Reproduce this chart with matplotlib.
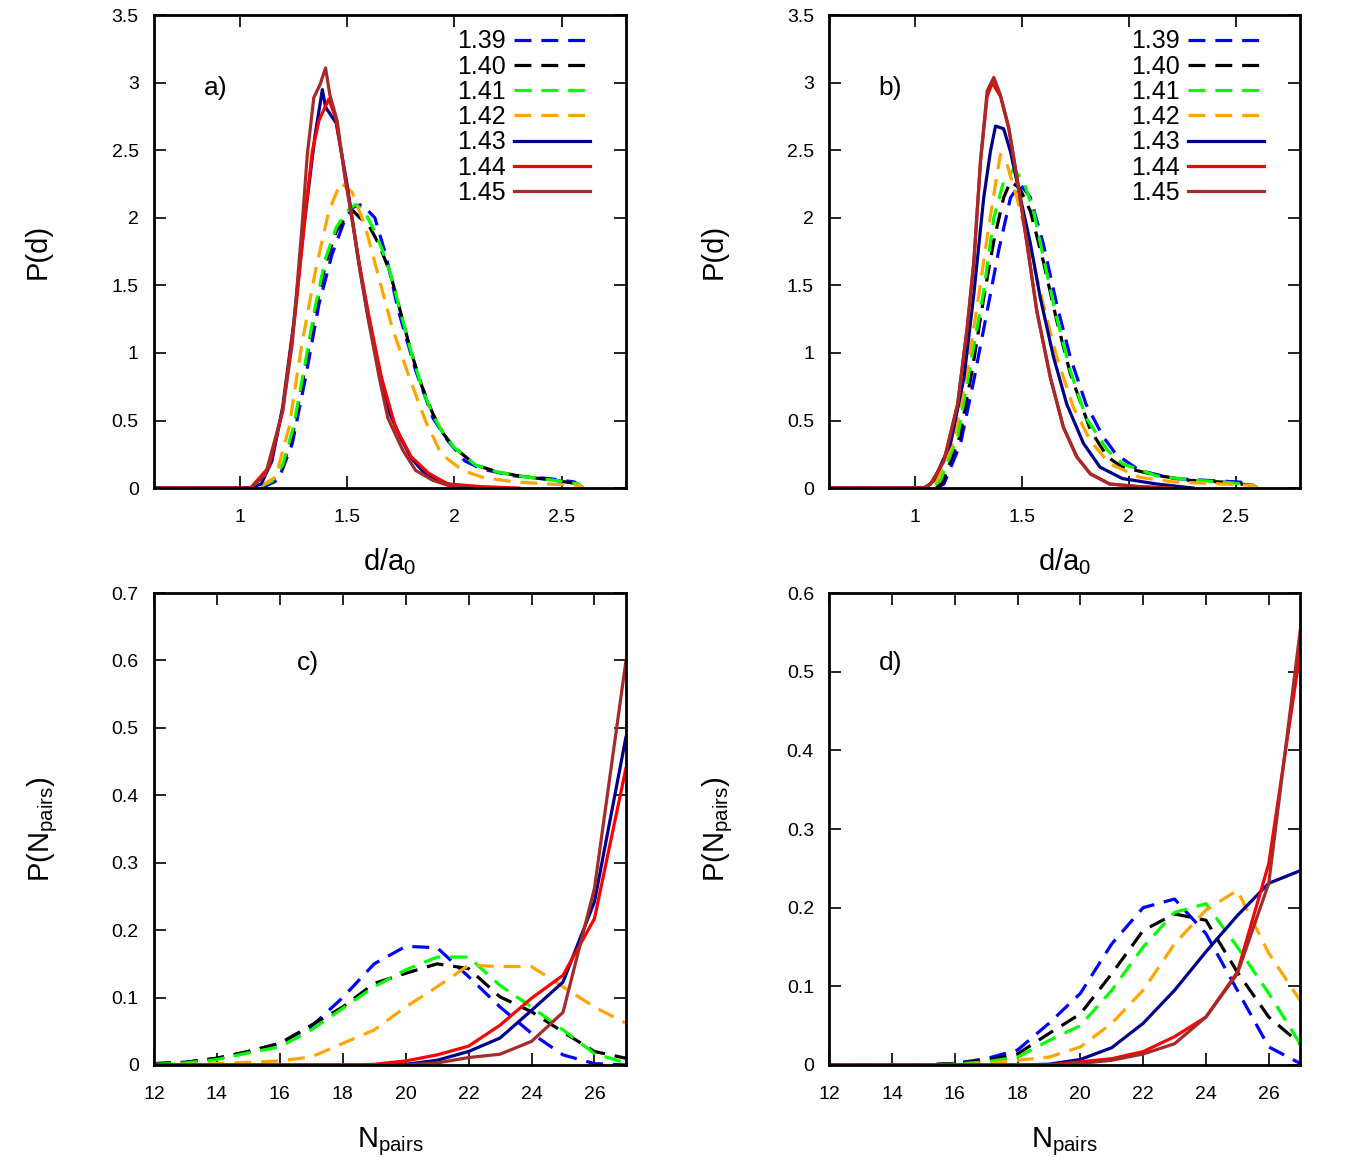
import matplotlib
matplotlib.use('Agg')
import matplotlib.pyplot as plt

plt.rcParams['font.family'] = ['Liberation Sans', 'DejaVu Sans']
plt.rcParams['mathtext.fontset'] = 'custom'
plt.rcParams['mathtext.rm'] = 'Liberation Sans'
plt.rcParams['mathtext.it'] = 'Liberation Sans:italic'

labels = ['1.39', '1.40', '1.41', '1.42', '1.43', '1.44', '1.45']
colors = ['#0000ff', '#000000', '#00ff00', '#ffa500', '#00008b', '#ff0000', '#a52a2a']
dashed = [True, True, True, True, False, False, False]

# ---- panel a: P(d) ----
a_d_139 = [0.6, 1.1, 1.18, 1.245, 1.307, 1.369, 1.43, 1.493, 1.53, 1.57, 1.63, 1.68, 1.74, 1.82, 1.90, 1.97, 2.05, 2.13, 2.28, 2.44, 2.56, 2.6]
a_p_139 = [0, 0, 0.06, 0.33, 0.82, 1.36, 1.73, 2.0, 2.08, 2.10, 2.0, 1.73, 1.31, 0.87, 0.52, 0.35, 0.20, 0.14, 0.09, 0.07, 0.045, 0.0]
a_d_140 = [0.6, 1.08, 1.15, 1.2, 1.25, 1.3, 1.35, 1.4, 1.45, 1.5, 1.53, 1.56, 1.6, 1.65, 1.7, 1.75, 1.8, 1.85, 1.9, 1.95, 2.0, 2.1, 2.2, 2.3, 2.4, 2.5, 2.58, 2.6]
a_p_140 = [0, 0, 0.05, 0.15, 0.42, 0.85, 1.3, 1.66, 1.9, 2.02, 2.05, 2.0, 1.95, 1.8, 1.6, 1.3, 1.0, 0.75, 0.55, 0.4, 0.3, 0.17, 0.12, 0.09, 0.07, 0.05, 0.03, 0]
a_d_141 = [0.6, 1.08, 1.15, 1.2, 1.25, 1.3, 1.35, 1.4, 1.45, 1.5, 1.54, 1.58, 1.62, 1.66, 1.7, 1.75, 1.8, 1.85, 1.9, 1.95, 2.0, 2.1, 2.2, 2.3, 2.4, 2.5, 2.58, 2.6]
a_p_141 = [0, 0, 0.05, 0.17, 0.45, 0.88, 1.33, 1.7, 1.93, 2.05, 2.1, 2.05, 1.93, 1.78, 1.6, 1.3, 1.0, 0.74, 0.54, 0.4, 0.3, 0.17, 0.12, 0.09, 0.07, 0.05, 0.03, 0]
a_d_142 = [0.6, 1.08, 1.167, 1.23, 1.29, 1.353, 1.415, 1.47, 1.524, 1.586, 1.648, 1.71, 1.79, 1.865, 1.94, 2.04, 2.13, 2.28, 2.44, 2.58, 2.6]
a_p_142 = [0, 0, 0.08, 0.45, 1.07, 1.61, 2.05, 2.26, 2.19, 1.93, 1.56, 1.19, 0.82, 0.5, 0.25, 0.13, 0.08, 0.045, 0.03, 0.02, 0]
a_d_143 = [0.6, 1.05, 1.1, 1.15, 1.2, 1.25, 1.3, 1.35, 1.385, 1.4, 1.45, 1.5, 1.55, 1.6, 1.65, 1.7, 1.75, 1.8, 1.85, 1.9, 1.95, 2.0, 2.1]
a_p_143 = [0, 0, 0.03, 0.2, 0.6, 1.2, 1.95, 2.6, 2.95, 2.82, 2.7, 2.25, 1.72, 1.25, 0.88, 0.55, 0.37, 0.22, 0.13, 0.07, 0.04, 0.02, 0]
a_d_144 = [0.6, 1.05, 1.136, 1.2, 1.26, 1.307, 1.338, 1.369, 1.415, 1.447, 1.477, 1.508, 1.555, 1.6, 1.66, 1.726, 1.8, 1.88, 1.97, 2.13, 2.3]
a_p_144 = [0, 0, 0.155, 0.57, 1.31, 2.05, 2.49, 2.72, 2.88, 2.74, 2.45, 2.15, 1.68, 1.29, 0.82, 0.45, 0.23, 0.11, 0.03, 0.01, 0]
a_d_145 = [0.6, 1.05, 1.12, 1.2, 1.245, 1.29, 1.315, 1.345, 1.375, 1.40, 1.42, 1.454, 1.49, 1.53, 1.56, 1.60, 1.65, 1.69, 1.76, 1.82, 1.90, 1.97, 2.1]
a_p_145 = [0, 0, 0.1, 0.57, 1.07, 1.93, 2.47, 2.89, 2.99, 3.11, 2.91, 2.72, 2.30, 1.93, 1.61, 1.24, 0.82, 0.52, 0.28, 0.13, 0.057, 0.02, 0]

# ---- panel b: P(d) ----
b_d_139 = [0.6, 1.1, 1.136, 1.214, 1.276, 1.338, 1.392, 1.447, 1.493, 1.54, 1.60, 1.663, 1.726, 1.80, 1.88, 1.94, 2.05, 2.21, 2.36, 2.52, 2.58, 2.6]
b_p_139 = [0, 0, 0.03, 0.33, 0.80, 1.31, 1.76, 2.15, 2.25, 2.15, 1.81, 1.36, 0.97, 0.62, 0.38, 0.25, 0.13, 0.07, 0.057, 0.044, 0.02, 0]
b_d_140 = [0.6, 1.1, 1.13, 1.21, 1.27, 1.322, 1.369, 1.415, 1.447, 1.49, 1.54, 1.60, 1.663, 1.726, 1.82, 1.9, 1.97, 2.13, 2.28, 2.44, 2.58, 2.6]
b_p_140 = [0, 0, 0.04, 0.38, 0.89, 1.41, 1.83, 2.15, 2.27, 2.22, 2.05, 1.68, 1.24, 0.85, 0.43, 0.23, 0.155, 0.094, 0.057, 0.044, 0.02, 0]
b_d_141 = [0.6, 1.08, 1.12, 1.2, 1.26, 1.322, 1.369, 1.415, 1.462, 1.508, 1.555, 1.60, 1.663, 1.726, 1.80, 1.90, 1.97, 2.13, 2.28, 2.44, 2.58, 2.6]
b_p_141 = [0, 0, 0.06, 0.38, 0.92, 1.46, 2.0, 2.27, 2.36, 2.27, 2.05, 1.71, 1.26, 0.87, 0.52, 0.28, 0.18, 0.09, 0.06, 0.045, 0.02, 0]
b_d_142 = [0.6, 1.07, 1.105, 1.183, 1.245, 1.30, 1.345, 1.377, 1.40, 1.43, 1.477, 1.54, 1.60, 1.663, 1.74, 1.82, 1.91, 2.05, 2.21, 2.44, 2.58, 2.6]
b_p_142 = [0, 0, 0.06, 0.35, 0.87, 1.44, 1.93, 2.25, 2.47, 2.40, 2.15, 1.76, 1.36, 0.97, 0.60, 0.35, 0.18, 0.08, 0.045, 0.03, 0.02, 0]
b_d_143 = [0.6, 1.05, 1.09, 1.167, 1.23, 1.276, 1.322, 1.353, 1.377, 1.415, 1.447, 1.493, 1.54, 1.586, 1.648, 1.71, 1.788, 1.865, 1.97, 2.13, 2.3]
b_p_143 = [0, 0, 0.06, 0.33, 0.82, 1.44, 2.15, 2.49, 2.68, 2.66, 2.49, 2.15, 1.81, 1.41, 0.97, 0.62, 0.33, 0.155, 0.07, 0.03, 0]
b_d_144 = [0.6, 1.04, 1.074, 1.136, 1.2, 1.245, 1.276, 1.307, 1.338, 1.362, 1.40, 1.439, 1.477, 1.524, 1.57, 1.633, 1.694, 1.757, 1.82, 1.91, 2.05, 2.2]
b_p_144 = [0, 0, 0.03, 0.2, 0.62, 1.19, 1.68, 2.42, 2.9, 3.0, 2.9, 2.66, 2.30, 1.81, 1.31, 0.82, 0.45, 0.23, 0.105, 0.03, 0.01, 0]
b_d_145 = [0.6, 1.04, 1.074, 1.136, 1.2, 1.245, 1.276, 1.307, 1.338, 1.369, 1.40, 1.439, 1.477, 1.524, 1.57, 1.633, 1.694, 1.757, 1.82, 1.91, 2.05, 2.2]
b_p_145 = [0, 0, 0.03, 0.2, 0.62, 1.19, 1.68, 2.42, 2.94, 3.04, 2.91, 2.67, 2.30, 1.81, 1.31, 0.82, 0.45, 0.23, 0.105, 0.03, 0.01, 0]

# ---- panels c, d: P(N_pairs) ----
n_pairs = [12, 13, 14, 15, 16, 17, 18, 19, 20, 21, 22, 23, 24, 25, 26, 27]
c_139 = [0.002, 0.004, 0.01, 0.02, 0.032, 0.057, 0.10, 0.15, 0.176, 0.174, 0.131, 0.086, 0.047, 0.015, 0.002, 0.0]
c_140 = [0.002, 0.004, 0.01, 0.02, 0.032, 0.059, 0.086, 0.121, 0.136, 0.15, 0.143, 0.101, 0.079, 0.049, 0.02, 0.01]
c_141 = [0.001, 0.003, 0.008, 0.018, 0.027, 0.052, 0.084, 0.116, 0.141, 0.16, 0.16, 0.118, 0.086, 0.052, 0.017, 0.003]
c_142 = [0.0, 0.001, 0.002, 0.004, 0.006, 0.012, 0.032, 0.052, 0.086, 0.116, 0.148, 0.146, 0.146, 0.116, 0.086, 0.062]
c_143 = [0, 0, 0, 0, 0, 0, 0, 0, 0.001, 0.007, 0.02, 0.04, 0.081, 0.123, 0.242, 0.486]
c_144 = [0, 0, 0, 0, 0, 0, 0, 0.001, 0.006, 0.015, 0.028, 0.059, 0.099, 0.133, 0.217, 0.44]
c_145 = [0, 0, 0, 0, 0, 0, 0, 0, 0.0, 0.003, 0.011, 0.016, 0.035, 0.078, 0.262, 0.599]

d_139 = [0, 0, 0, 0, 0.002, 0.008, 0.019, 0.053, 0.091, 0.154, 0.2, 0.211, 0.167, 0.095, 0.023, 0.002]
d_140 = [0, 0, 0, 0, 0.002, 0.006, 0.014, 0.04, 0.065, 0.116, 0.171, 0.192, 0.184, 0.118, 0.061, 0.027]
d_141 = [0, 0, 0, 0, 0.001, 0.004, 0.01, 0.031, 0.05, 0.095, 0.15, 0.194, 0.205, 0.15, 0.091, 0.027]
d_142 = [0, 0, 0, 0, 0.0, 0.002, 0.006, 0.01, 0.023, 0.053, 0.095, 0.154, 0.197, 0.222, 0.142, 0.082]
d_143 = [0, 0, 0, 0, 0, 0, 0, 0.001, 0.007, 0.022, 0.053, 0.095, 0.144, 0.19, 0.231, 0.247]
d_144 = [0, 0, 0, 0, 0, 0, 0, 0, 0.004, 0.008, 0.017, 0.036, 0.061, 0.118, 0.256, 0.525]
d_145 = [0, 0, 0, 0, 0, 0, 0, 0, 0.002, 0.006, 0.014, 0.027, 0.061, 0.116, 0.231, 0.552]

panel_a = [(a_d_139, a_p_139), (a_d_140, a_p_140), (a_d_141, a_p_141), (a_d_142, a_p_142),
           (a_d_143, a_p_143), (a_d_144, a_p_144), (a_d_145, a_p_145)]
panel_b = [(b_d_139, b_p_139), (b_d_140, b_p_140), (b_d_141, b_p_141), (b_d_142, b_p_142),
           (b_d_143, b_p_143), (b_d_144, b_p_144), (b_d_145, b_p_145)]
panel_c = [(n_pairs, c) for c in [c_139, c_140, c_141, c_142, c_143, c_144, c_145]]
panel_d = [(n_pairs, c) for c in [d_139, d_140, d_141, d_142, d_143, d_144, d_145]]

fig = plt.figure(figsize=(13.66, 11.76), dpi=100)

LW = 2.3
DASH = (0, (5.3, 3.1))


def style(ax):
    for s in ax.spines.values():
        s.set_linewidth(2.0)
    ax.tick_params(direction='in', length=8.5, width=1.2, top=True, right=True,
                   labelsize=14)
    ax.tick_params(axis='x', pad=15)
    ax.tick_params(axis='y', pad=11)


def draw(ax, curves):
    for (x, y), lab, col, ds in zip(curves, labels, colors, dashed):
        ax.plot(x, y, color=col, lw=LW, label=lab,
                linestyle=DASH if ds else '-')


# rect positions (left, bottom, width, height) in figure fraction
axa = fig.add_axes([0.1127, 0.585, 0.3455, 0.402])
axb = fig.add_axes([0.607, 0.585, 0.3448, 0.402])
axc = fig.add_axes([0.1127, 0.0944, 0.3455, 0.4013])
axd = fig.add_axes([0.607, 0.0944, 0.3448, 0.4013])

for ax, curves, tag in [(axa, panel_a, 'a)'), (axb, panel_b, 'b)')]:
    draw(ax, curves)
    style(ax)
    ax.set_xlim(0.6, 2.8)
    ax.set_ylim(0, 3.5)
    ax.set_xticks([1, 1.5, 2, 2.5])
    ax.set_xticklabels(['1', '1.5', '2', '2.5'])
    ax.set_yticks([0, 0.5, 1, 1.5, 2, 2.5, 3, 3.5])
    ax.set_yticklabels(['0', '0.5', '1', '1.5', '2', '2.5', '3', '3.5'])
    ax.set_xlabel(r'd/a$_0$', fontsize=21)
    ax.set_ylabel('P(d)', fontsize=21)
    ax.xaxis.set_label_coords(0.5, -0.122)
    ax.yaxis.set_label_coords(-0.216, 0.5)
    ax.text(0.13, 0.846, tag, transform=ax.transAxes, fontsize=19,
            ha='center', va='center')
    ax.legend(loc='upper right', bbox_to_anchor=(0.924, 0.97), frameon=False,
              markerfirst=False, fontsize=18, handlelength=3.05,
              handletextpad=0.32, labelspacing=0.05, borderpad=0,
              borderaxespad=0)

for ax, curves, tag, ymax, tx in [(axc, panel_c, 'c)', 0.7, 0.326), (axd, panel_d, 'd)', 0.6, 0.13)]:
    draw(ax, curves)
    style(ax)
    ax.set_xlim(12, 27)
    ax.set_ylim(0, ymax)
    ax.set_xticks([12, 14, 16, 18, 20, 22, 24, 26])
    yt = [round(0.1 * i, 1) for i in range(int(round(ymax * 10)) + 1)]
    ax.set_yticks(yt)
    ax.set_yticklabels(['0' if v == 0 else '%.1f' % v for v in yt])
    ax.set_xlabel(r'N$_{\mathrm{pairs}}$', fontsize=21)
    ax.set_ylabel(r'P(N$_{\mathrm{pairs}}$)', fontsize=21)
    ax.xaxis.set_label_coords(0.5, -0.128)
    ax.yaxis.set_label_coords(-0.199, 0.5)
    ax.text(tx, 0.852, tag, transform=ax.transAxes, fontsize=19,
            ha='center', va='center')

fig.savefig('out.png', dpi=100)
